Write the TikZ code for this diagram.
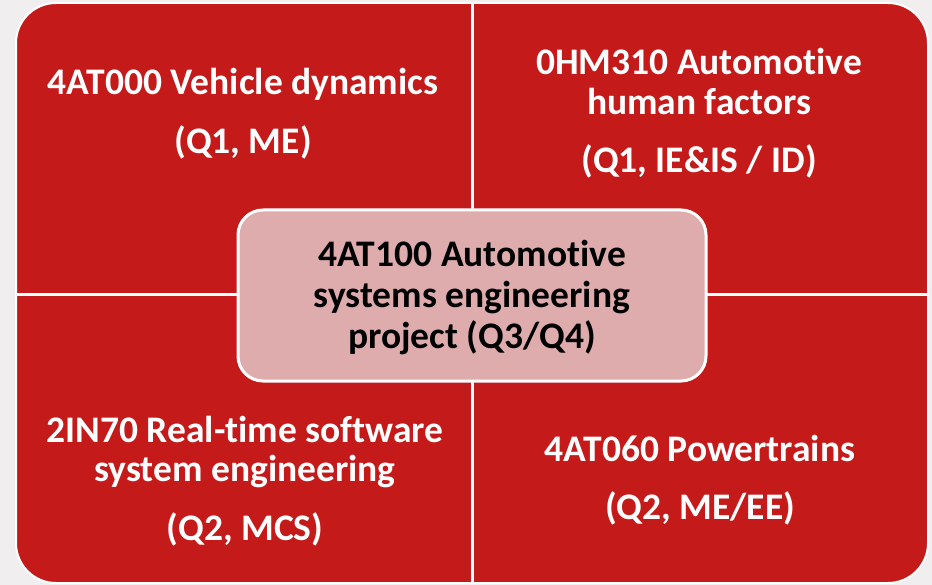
\documentclass[tikz,border=0pt]{standalone}
\usepackage{fontspec}
\setmainfont{Carlito}[Ligatures=NoCommon]
\definecolor{qred}{RGB}{196,26,26}
\definecolor{cpink}{RGB}{222,172,172}
\definecolor{bggray}{RGB}{240,238,238}
\tikzset{
  qtext/.style={text=white, align=center, font=\bfseries\fontsize{37.5}{39.5}\selectfont, inner sep=0pt},
  centerbox/.style={draw=white, line width=3pt, fill=cpink, rounded corners=25pt,
    minimum width=468pt, minimum height=171pt},
  centertext/.style={align=center, text=black, inner sep=0pt,
    font=\bfseries\fontsize{37.5}{41}\selectfont},
  divider/.style={white, line width=3pt}
}
\begin{document}
\begin{tikzpicture}[x=1pt,y=-1pt]
\fill[bggray] (0,0) rectangle (932,585);
\path[use as bounding box] (0,0) rectangle (932,585);
\draw[white, line width=2pt, fill=qred, rounded corners=40pt] (16,3) rectangle (928,583);
\coordinate (top) at (472,3);
\coordinate (bottom) at (472,583);
\coordinate (left) at (16,295);
\coordinate (right) at (928,295);
\draw[divider] (top) -- (bottom);
\draw[divider] (left) -- (right);
\node[centerbox] (core) at (472,295.5) {};
\node[centertext] (coretext) at (472,297.5) {4AT100 Automotive\\systems engineering\\project (Q3/Q4)};
\node[qtext] (tl) at (243,113.5) {4AT000 Vehicle dynamics\\[19pt](Q1, ME)};
\node[qtext] (tr) at (699,113.5) {0HM310 Automotive\\human factors\\[19pt](Q1, IE\&IS / ID)};
\node[qtext] (bl) at (245,481) {2IN70 Real-time software\\system engineering\\[19pt](Q2, MCS)};
\node[qtext] (br) at (700,480) {4AT060 Powertrains\\[19pt](Q2, ME/EE)};
\end{tikzpicture}
\end{document}
